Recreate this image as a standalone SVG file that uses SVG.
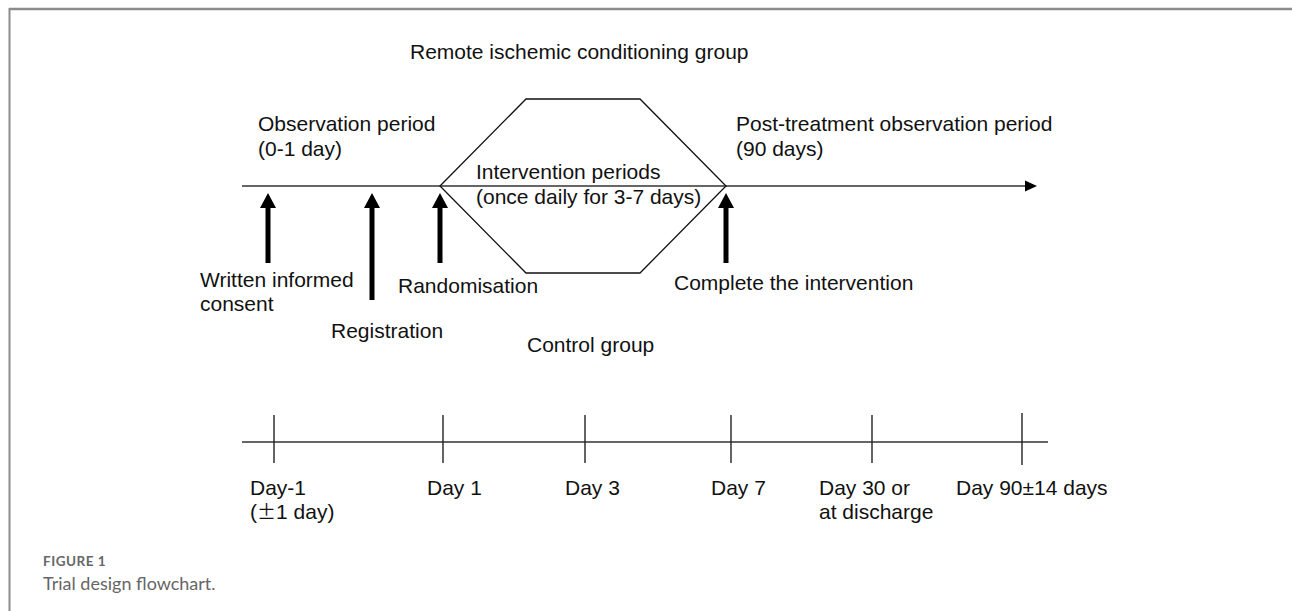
<svg xmlns="http://www.w3.org/2000/svg" width="1292" height="611" viewBox="0 0 1292 611">
<style>
.t{font-family:"Liberation Sans",Arial,sans-serif;font-size:21px;fill:#111}
.ax{stroke:#333;stroke-width:1.6;fill:none}
.tick{stroke:#222;stroke-width:1.4}
.hex{stroke:#111;stroke-width:1.3;fill:none}
.arr{fill:#000}
.cap1{font-family:Lato,"Open Sans",sans-serif;font-size:13.5px;font-weight:bold;fill:#666;letter-spacing:0.5px}
.cap2{font-family:Lato,"Open Sans",sans-serif;font-size:18px;fill:#666}
</style>
<defs>
<path id="up" d="M0,0 L8,15 L2.5,15 L2.5,70 L-2.5,70 L-2.5,15 L-8,15 Z"/>
</defs>
<rect width="1292" height="611" fill="#fff"/>
<g id="frame">
<line x1="9" y1="9" x2="1292" y2="9" stroke="#8c8c8c" stroke-width="2.5"/>
<line x1="9.5" y1="8" x2="9.5" y2="611" stroke="#8c8c8c" stroke-width="2"/>
</g>
<g id="connectors">
<line class="ax" x1="242" y1="186" x2="1027" y2="186"/>
<path d="M1037,186 L1025,180.5 L1025,191.5 Z" fill="#000"/>
<polygon id="hexagon" class="hex" points="440,186 526,99 640,99 726,186 640,273 526,273"/>
<use href="#up" class="arr" x="268" y="193"/>
<path class="arr" d="M372,193 L380,208 L374.5,208 L374.5,300 L369.5,300 L369.5,208 L364,208 Z"/>
<use href="#up" class="arr" x="440" y="193"/>
<use href="#up" class="arr" x="726" y="193"/>
<line class="ax" x1="242" y1="442" x2="1048" y2="442"/>
<line class="tick" x1="274" y1="415" x2="274" y2="463"/>
<line class="tick" x1="443" y1="415" x2="443" y2="463"/>
<line class="tick" x1="585" y1="415" x2="585" y2="463"/>
<line class="tick" x1="731" y1="415" x2="731" y2="463"/>
<line class="tick" x1="872" y1="415" x2="872" y2="463"/>
<line class="tick" x1="1022" y1="413" x2="1022" y2="465"/>
</g>
<g id="group-labels">
<text class="t" x="410" y="59">Remote ischemic conditioning group</text>
<text class="t" x="527" y="352">Control group</text>
</g>
<g id="observation">
<text class="t" x="258" y="131">Observation period</text>
<text class="t" x="258" y="156">(0-1 day)</text>
</g>
<g id="intervention">
<text class="t" x="476" y="179">Intervention periods</text>
<text class="t" x="476" y="204">(once daily for 3-7 days)</text>
</g>
<g id="post-treatment">
<text class="t" x="736" y="131">Post-treatment observation period</text>
<text class="t" x="736" y="156">(90 days)</text>
</g>
<g id="consent">
<text class="t" x="200" y="287">Written informed</text>
<text class="t" x="200" y="311">consent</text>
</g>
<g id="registration"><text class="t" x="331" y="338">Registration</text></g>
<g id="randomisation"><text class="t" x="398" y="293">Randomisation</text></g>
<g id="complete"><text class="t" x="674" y="290">Complete the intervention</text></g>
<g id="days">
<text class="t" x="250" y="495">Day-1</text>
<text class="t" x="250" y="519">(<tspan font-family="'Noto Sans CJK JP',sans-serif" font-size="19">±</tspan>1 day)</text>
<text class="t" x="427" y="495">Day 1</text>
<text class="t" x="565" y="495">Day 3</text>
<text class="t" x="711" y="495">Day 7</text>
<text class="t" x="819" y="495">Day 30 or</text>
<text class="t" x="819" y="519">at discharge</text>
<text class="t" x="956" y="495">Day 90±14 days</text>
</g>
<g id="caption">
<text class="cap1" x="43" y="566">FIGURE 1</text>
<text class="cap2" x="43" y="590">Trial design flowchart.</text>
</g>
</svg>
